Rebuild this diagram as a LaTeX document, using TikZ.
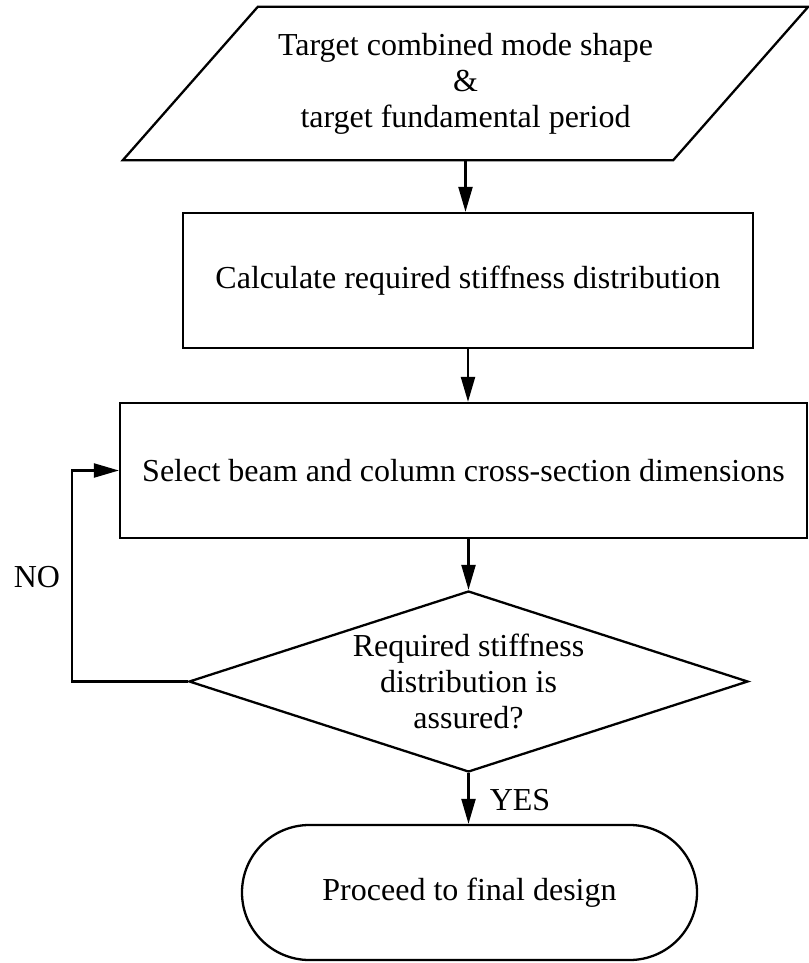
\documentclass[tikz,border=0pt]{standalone}
\usepackage{fontspec}
\setmainfont{Liberation Serif}
\usetikzlibrary{arrows.meta,shapes.geometric}
\begin{document}
\begin{tikzpicture}[x=1pt,y=-1pt,
  every node/.style={font=\fontsize{32}{36}\selectfont, inner sep=0pt, align=center},
  boxstyle/.style={draw, line width=2.3pt, rectangle},
  decstyle/.style={draw, line width=2.3pt, diamond, aspect=3.09},
  termstyle/.style={draw, line width=2.3pt, rectangle, rounded corners=67.4pt},
  arr/.style={line width=2.3pt, -{Triangle[length=25pt,width=14pt]}},
  lbl/.style={font=\fontsize{32}{36}\selectfont}]
\useasboundingbox (0,0) rectangle (808,963);
\node[minimum width=550pt, minimum height=153pt] (input) at (465.5,83.5)
  {Target combined mode shape\\\&\\target fundamental period};
\draw[line width=2.3pt, line join=miter]
  ([xshift=-67.5pt]input.south west) -- ([xshift=67.5pt]input.north west) --
  ([xshift=67.5pt]input.north east) -- ([xshift=-67.5pt]input.south east) -- cycle;
\node[boxstyle, minimum width=570pt, minimum height=135pt] (calc) at (468,280.5)
  {Calculate required stiffness distribution};
\node[boxstyle, minimum width=687pt, minimum height=135pt] (sel) at (463.5,470.5)
  {Select beam and column cross-section dimensions};
\node[decstyle, minimum width=559pt, minimum height=181pt] (dec) at (468.5,681.5) {};
\node (dectext) at (dec.center) {Required stiffness\\distribution is\\assured?};
\node[termstyle, minimum width=455pt, minimum height=135pt] (term) at (469.5,892.5)
  {Proceed to final design};
\draw[arr] (input.south) -- (input.south |- calc.north);
\draw[arr] (calc.south) -- (calc.south |- sel.north);
\draw[arr] (dec.north |- sel.south) -- (dec.north);
\draw[arr] (dec.south) -- (dec.south |- term.north);
\draw[arr] (dec.west) -- ++(-116pt,0) |- (sel.west);
\node[lbl] (no) at (37,577) {NO};
\node[lbl] (yes) at (520,800) {YES};
\end{tikzpicture}
\end{document}
